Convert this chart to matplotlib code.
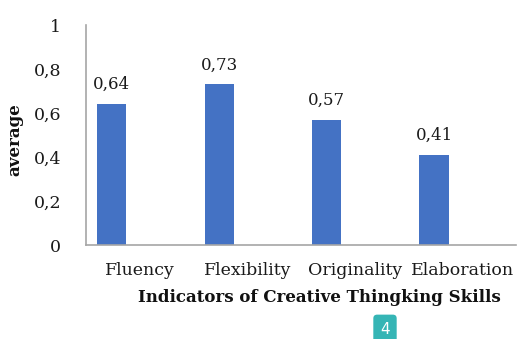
import matplotlib.pyplot as plt
import numpy as np

indicators = ["Fluency", "Flexibility", "Originality", "Elaboration"]
average = [0.64, 0.73, 0.57, 0.41]
y_ticks = [0, 0.2, 0.4, 0.6, 0.8, 1]
y_tick_labels = ["0", "0,2", "0,4", "0,6", "0,8", "1"]

plt.rcParams['font.family'] = 'DejaVu Serif'

fig = plt.figure(figsize=(5.17, 3.39), dpi=100)
ax = fig.add_axes([86.25/517, 94/339, 430/517, 220/339])

x = np.arange(len(indicators))
bars = ax.bar(x - 0.265, average, width=0.27, color="#4472C4")
for b, v in zip(bars, average):
    ax.text(b.get_x() + b.get_width()/2, v + 0.05, f"{v:.2f}".replace(".", ","),
            ha="center", va="bottom", fontsize=12, color="#1a1a1a")

ax.set_xlim(-0.5, 3.5)
ax.set_ylim(0, 1)
ax.set_xticks(x)
ax.set_xticklabels(indicators, fontsize=12.5, color="#1a1a1a")
ax.set_yticks(y_ticks)
ax.set_yticklabels(y_tick_labels, fontsize=12.5, color="#1a1a1a")
ax.tick_params(axis="both", length=0)
ax.tick_params(axis="y", pad=18)
ax.tick_params(axis="x", pad=12)

for s in ["top", "right"]:
    ax.spines[s].set_visible(False)
for s in ["left", "bottom"]:
    ax.spines[s].set_color("#A6A6A6")
    ax.spines[s].set_linewidth(1.2)

fig.text(15/517, 1 - 140/339, "average", rotation=90, ha="center", va="center",
         fontsize=12, fontweight="bold", color="#111111")
fig.text(319/517, 1 - 298/339, "Indicators of Creative Thingking Skills",
         ha="center", va="center", fontsize=12, fontweight="bold", color="#111111")

fig.text(385/517, 1 - 329/339, "4", ha="center", va="center", fontsize=11,
         color="white", family="DejaVu Sans",
         bbox=dict(boxstyle="round,pad=0.45,rounding_size=0.25", fc="#35B5B5", ec="none"))

fig.savefig("out.png", dpi=100)
